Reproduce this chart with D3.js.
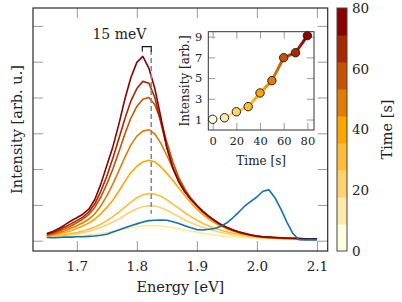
<!DOCTYPE html>
<html>
<head>
<meta charset="utf-8">
<script src="https://cdn.jsdelivr.net/npm/d3@7"></script>
<style>
  body { margin: 0; background: #fff; }
  svg { display: block; }
  text { font-family: "DejaVu Serif", serif; fill: #222; }
</style>
</head>
<body>
<div id="chart"></div>
<script>
'use strict';

// time steps of the series (s)
const times = [0, 10, 20, 30, 40, 50, 60, 70, 80];

// energy grid (eV)
const energy = [1.65, 1.66, 1.67, 1.68, 1.69, 1.70, 1.71, 1.72, 1.73, 1.74,
  1.75, 1.76, 1.77, 1.78, 1.79, 1.80, 1.81, 1.82, 1.83, 1.84,
  1.85, 1.86, 1.87, 1.88, 1.89, 1.90, 1.91, 1.92, 1.93, 1.94,
  1.95, 1.96, 1.97, 1.98, 1.99, 2.00, 2.01, 2.02, 2.03, 2.04,
  2.05, 2.06, 2.07, 2.08, 2.09, 2.10];

// spectra (arb. u.)
const spec0 = [0.08, 0.08, 0.09, 0.10, 0.10, 0.11, 0.12, 0.13, 0.15, 0.17,
  0.19, 0.22, 0.25, 0.28, 0.31, 0.33, 0.34, 0.35, 0.35, 0.34,
  0.32, 0.30, 0.27, 0.25, 0.22, 0.20, 0.17, 0.15, 0.13, 0.12,
  0.10, 0.09, 0.08, 0.07, 0.07, 0.06, 0.05, 0.05, 0.05, 0.04,
  0.04, 0.04, 0.03, 0.03, 0.03, 0.03];
const spec10 = [0.09, 0.09, 0.10, 0.11, 0.12, 0.13, 0.14, 0.16, 0.18, 0.20,
  0.23, 0.26, 0.30, 0.33, 0.37, 0.39, 0.41, 0.42, 0.42, 0.41,
  0.39, 0.36, 0.33, 0.30, 0.27, 0.24, 0.21, 0.18, 0.16, 0.14,
  0.12, 0.11, 0.10, 0.09, 0.08, 0.07, 0.06, 0.06, 0.05, 0.05,
  0.04, 0.04, 0.04, 0.03, 0.03, 0.03];
const spec20 = [0.11, 0.12, 0.13, 0.15, 0.17, 0.19, 0.22, 0.26, 0.31, 0.37,
  0.44, 0.52, 0.61, 0.71, 0.81, 0.89, 0.95, 0.98, 0.97, 0.92,
  0.85, 0.76, 0.67, 0.58, 0.50, 0.43, 0.37, 0.32, 0.27, 0.23,
  0.20, 0.17, 0.15, 0.13, 0.11, 0.09, 0.08, 0.07, 0.06, 0.05,
  0.05, 0.04, 0.04, 0.04, 0.03, 0.03];
const spec30 = [0.12, 0.13, 0.15, 0.17, 0.20, 0.23, 0.27, 0.32, 0.38, 0.46,
  0.56, 0.67, 0.80, 0.94, 1.08, 1.20, 1.28, 1.32, 1.30, 1.24,
  1.14, 1.02, 0.90, 0.78, 0.67, 0.57, 0.48, 0.41, 0.35, 0.29,
  0.25, 0.21, 0.18, 0.15, 0.13, 0.11, 0.09, 0.08, 0.07, 0.06,
  0.05, 0.05, 0.04, 0.04, 0.04, 0.03];
const spec40 = [0.14, 0.16, 0.19, 0.23, 0.28, 0.34, 0.41, 0.49, 0.60, 0.75,
  0.93, 1.13, 1.38, 1.65, 1.90, 2.08, 2.20, 2.25, 2.20, 2.06,
  1.88, 1.68, 1.47, 1.26, 1.06, 0.88, 0.73, 0.60, 0.49, 0.40,
  0.33, 0.27, 0.22, 0.18, 0.15, 0.12, 0.10, 0.08, 0.07, 0.06,
  0.06, 0.05, 0.05, 0.04, 0.04, 0.04];
const spec50 = [0.15, 0.18, 0.22, 0.28, 0.35, 0.42, 0.50, 0.60, 0.75, 0.97,
  1.25, 1.58, 1.95, 2.33, 2.67, 2.92, 3.06, 3.10, 2.98, 2.72,
  2.38, 2.02, 1.68, 1.40, 1.16, 0.96, 0.79, 0.65, 0.53, 0.43,
  0.35, 0.28, 0.23, 0.18, 0.15, 0.12, 0.10, 0.09, 0.08, 0.07,
  0.06, 0.06, 0.05, 0.05, 0.04, 0.04];
const spec60 = [0.16, 0.20, 0.26, 0.33, 0.41, 0.50, 0.60, 0.73, 0.93, 1.22,
  1.58, 2.00, 2.48, 2.98, 3.42, 3.75, 3.95, 4.00, 3.80, 3.35,
  2.75, 2.20, 1.76, 1.44, 1.19, 0.99, 0.82, 0.67, 0.55, 0.45,
  0.37, 0.30, 0.24, 0.19, 0.15, 0.12, 0.10, 0.09, 0.08, 0.07,
  0.07, 0.06, 0.06, 0.05, 0.05, 0.04];
const spec70 = [0.18, 0.23, 0.30, 0.38, 0.47, 0.56, 0.66, 0.80, 1.03, 1.38,
  1.80, 2.30, 2.85, 3.40, 3.90, 4.25, 4.45, 4.40, 4.00, 3.30,
  2.60, 2.05, 1.65, 1.38, 1.16, 0.98, 0.82, 0.68, 0.56, 0.45,
  0.37, 0.30, 0.24, 0.20, 0.16, 0.13, 0.11, 0.10, 0.09, 0.08,
  0.07, 0.07, 0.06, 0.05, 0.05, 0.05];
const spec80 = [0.20, 0.26, 0.34, 0.44, 0.55, 0.64, 0.74, 0.88, 1.15, 1.58,
  2.10, 2.62, 3.25, 3.95, 4.55, 4.98, 5.15, 4.82, 4.25, 3.45,
  2.60, 2.02, 1.64, 1.36, 1.15, 0.98, 0.82, 0.68, 0.56, 0.45,
  0.37, 0.30, 0.24, 0.20, 0.16, 0.13, 0.11, 0.10, 0.09, 0.08,
  0.07, 0.07, 0.06, 0.05, 0.05, 0.05];
// reference spectrum (blue)
const specRef = [0.09, 0.08, 0.09, 0.10, 0.10, 0.11, 0.11, 0.12, 0.13, 0.15,
  0.18, 0.24, 0.30, 0.36, 0.42, 0.47, 0.52, 0.56, 0.57, 0.58,
  0.57, 0.53, 0.48, 0.42, 0.36, 0.31, 0.30, 0.32, 0.34, 0.40,
  0.50, 0.64, 0.80, 0.97, 1.10, 1.22, 1.38, 1.42, 1.20, 0.88,
  0.52, 0.20, 0.03, 0.02, 0.03, 0.02];

const spectra = [spec0, spec10, spec20, spec30, spec40, spec50, spec60, spec70, spec80];

// inset: integrated intensity vs time
const insetIntensity = [1.02, 1.17, 1.75, 2.24, 3.56, 4.75, 6.97, 7.45, 9.1];

const xTicks = [1.7, 1.8, 1.9, 2.0, 2.1];
const yTicks = [0, 1, 2, 3, 4, 5, 6];
const insetXTicks = [0, 20, 40, 60, 80];
const insetYTicks = [1, 3, 5, 7, 9];
const cbTicks = [0, 20, 40, 60, 80];

const W = 402, H = 302;
const frame = { left: 33, right: 327.7, top: 8, bottom: 251 };

const svg = d3.select('#chart').append('svg')
  .attr('width', W).attr('height', H);

const x = d3.scaleLinear().domain([1.627, 2.118]).range([frame.left, frame.right]);
const y = d3.scaleLinear().domain([-0.288, 6.5]).range([frame.bottom, frame.top]);
const color = d3.scaleLinear().domain([0, 40, 80])
  .range(['#ffffe0', '#ffa500', '#8b0000']);
const refColor = '#1271b0';

// ticks (inward, all four sides)
function styleAxis(g, size) {
  g.select('.domain').remove();
  g.selectAll('.tick line').attr('stroke', '#9a9a9a').attr('stroke-width', 1);
  g.selectAll('text').attr('font-size', size).attr('fill', '#222')
    .attr('font-family', '"DejaVu Serif", serif');
}

svg.append('g').attr('transform', `translate(0,${frame.bottom})`)
  .call(d3.axisBottom(x).tickValues(xTicks).tickSize(-10).tickPadding(10).tickFormat(d3.format('.1f')))
  .call(g => styleAxis(g, 13.5));
svg.append('g').attr('transform', `translate(0,${frame.top})`)
  .call(d3.axisTop(x).tickValues(xTicks).tickSize(-10).tickFormat(''))
  .call(g => styleAxis(g, 13.5));
svg.append('g').attr('transform', `translate(${frame.left},0)`)
  .call(d3.axisLeft(y).tickValues(yTicks).tickSize(-10).tickFormat(''))
  .call(g => styleAxis(g, 13.5));
svg.append('g').attr('transform', `translate(${frame.right},0)`)
  .call(d3.axisRight(y).tickValues(yTicks).tickSize(-10).tickFormat(''))
  .call(g => styleAxis(g, 13.5));

// spectra
const line = d3.line().x((d, i) => x(energy[i])).y(d => y(d));

svg.append('g').selectAll('path')
  .data(spectra)
  .join('path')
  .attr('d', d => line(d))
  .attr('fill', 'none')
  .attr('stroke', (d, i) => color(times[i]))
  .attr('stroke-width', 1.6)
  .attr('stroke-linejoin', 'round');

svg.append('path')
  .attr('d', line(specRef))
  .attr('fill', 'none')
  .attr('stroke', refColor)
  .attr('stroke-width', 1.6)
  .attr('stroke-linejoin', 'round');

// 15 meV shift marker
const shiftFrom = 1.809, shiftTo = 1.824;
svg.append('line')
  .attr('x1', x(shiftTo)).attr('x2', x(shiftTo))
  .attr('y1', y(5.33)).attr('y2', y(0.75))
  .attr('stroke', '#888').attr('stroke-width', 1.6)
  .attr('stroke-dasharray', '5,3');
svg.append('path')
  .attr('d', `M${x(shiftFrom)},${y(5.28)}V${y(5.42)}H${x(shiftTo)}V${y(5.28)}`)
  .attr('fill', 'none').attr('stroke', '#111').attr('stroke-width', 1.1);
svg.append('text')
  .attr('x', x(1.771)).attr('y', y(5.63))
  .attr('text-anchor', 'middle').attr('font-size', 14)
  .text('15 meV');

// frame
svg.append('rect')
  .attr('x', frame.left).attr('y', frame.top)
  .attr('width', frame.right - frame.left).attr('height', frame.bottom - frame.top)
  .attr('fill', 'none').attr('stroke', '#2a2a2a').attr('stroke-width', 1.2);

// axis titles
svg.append('text')
  .attr('x', (frame.left + frame.right) / 2).attr('y', 291.5)
  .attr('text-anchor', 'middle').attr('font-size', 14.5)
  .text('Energy [eV]');
svg.append('text')
  .attr('transform', `translate(21.5,${(frame.top + frame.bottom) / 2}) rotate(-90)`)
  .attr('text-anchor', 'middle').attr('font-size', 14.5)
  .text('Intensity [arb. u.]');

// inset
const inset = { left: 208.3, right: 314, top: 31.7, bottom: 130 };
const ix = d3.scaleLinear().domain([-3.7, 85.6]).range([inset.left, inset.right]);
const iy = d3.scaleLinear().domain([-0.014, 9.48]).range([inset.bottom, inset.top]);

svg.append('rect')
  .attr('x', inset.left).attr('y', inset.top)
  .attr('width', inset.right - inset.left).attr('height', inset.bottom - inset.top)
  .attr('fill', '#fff');

svg.append('g').attr('transform', `translate(0,${inset.bottom})`)
  .call(d3.axisBottom(ix).tickValues(insetXTicks).tickSize(-7).tickPadding(7))
  .call(g => styleAxis(g, 11.5));
svg.append('g').attr('transform', `translate(0,${inset.top})`)
  .call(d3.axisTop(ix).tickValues(insetXTicks).tickSize(-7).tickFormat(''))
  .call(g => styleAxis(g, 11.5));
svg.append('g').attr('transform', `translate(${inset.left},0)`)
  .call(d3.axisLeft(iy).tickValues(insetYTicks).tickSize(-7).tickPadding(6))
  .call(g => styleAxis(g, 11.5));
svg.append('g').attr('transform', `translate(${inset.right},0)`)
  .call(d3.axisRight(iy).tickValues(insetYTicks).tickSize(-7).tickFormat(''))
  .call(g => styleAxis(g, 11.5));

const defs = svg.append('defs');
const grad = defs.append('linearGradient')
  .attr('id', 'timeGrad')
  .attr('gradientUnits', 'userSpaceOnUse')
  .attr('x1', ix(0)).attr('x2', ix(80)).attr('y1', 0).attr('y2', 0);
grad.selectAll('stop')
  .data(times)
  .join('stop')
  .attr('offset', d => d / 80)
  .attr('stop-color', d => color(d));

const iline = d3.line().x((d, i) => ix(times[i])).y(d => iy(d));
svg.append('path')
  .attr('d', iline(insetIntensity))
  .attr('fill', 'none')
  .attr('stroke', 'url(#timeGrad)')
  .attr('stroke-width', 3)
  .attr('stroke-linejoin', 'round');

svg.append('g').selectAll('circle')
  .data(insetIntensity)
  .join('circle')
  .attr('cx', (d, i) => ix(times[i]))
  .attr('cy', d => iy(d))
  .attr('r', 4.2)
  .attr('fill', (d, i) => color(times[i]))
  .attr('stroke', '#222')
  .attr('stroke-width', 1);

svg.append('rect')
  .attr('x', inset.left).attr('y', inset.top)
  .attr('width', inset.right - inset.left).attr('height', inset.bottom - inset.top)
  .attr('fill', 'none').attr('stroke', '#333').attr('stroke-width', 1);

svg.append('text')
  .attr('x', (inset.left + inset.right) / 2).attr('y', 164.5)
  .attr('text-anchor', 'middle').attr('font-size', 12)
  .text('Time [s]');
svg.append('text')
  .attr('transform', `translate(188.5,${(inset.top + inset.bottom) / 2}) rotate(-90)`)
  .attr('text-anchor', 'middle').attr('font-size', 12)
  .text('Intensity [arb.]');

// colorbar
const cb = { left: 337, right: 347, top: 8, bottom: 251 };
const cbBand = d3.scaleBand().domain(times).range([cb.bottom, cb.top]);
const cbScale = d3.scaleLinear().domain([0, 80]).range([cb.bottom, cb.top]);

svg.append('g').selectAll('rect')
  .data(times)
  .join('rect')
  .attr('x', cb.left)
  .attr('y', d => cbBand(d))
  .attr('width', cb.right - cb.left)
  .attr('height', cbBand.bandwidth() + 0.5)
  .attr('fill', d => color(d));

svg.append('rect')
  .attr('x', cb.left).attr('y', cb.top)
  .attr('width', cb.right - cb.left).attr('height', cb.bottom - cb.top)
  .attr('fill', 'none').attr('stroke', '#444').attr('stroke-width', 1);

svg.append('g').attr('transform', `translate(${cb.right},0)`)
  .call(d3.axisRight(cbScale).tickValues(cbTicks).tickSize(0).tickPadding(5))
  .call(g => styleAxis(g, 13.5));

svg.append('text')
  .attr('transform', `translate(391.5,${(cb.top + cb.bottom) / 2}) rotate(-90)`)
  .attr('text-anchor', 'middle').attr('font-size', 14.5)
  .text('Time [s]');
</script>
</body>
</html>
